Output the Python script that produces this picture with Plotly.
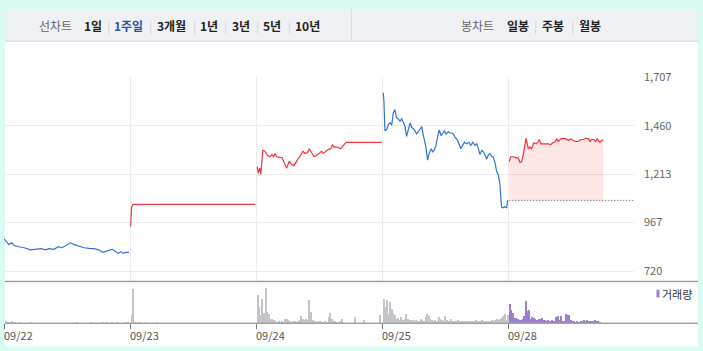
import plotly.graph_objects as go

W, H = 703, 351
DAY = 390  # minutes per trading session

dates = ["09/22", "09/23", "09/24", "09/25", "09/28"]
ytick_vals = [720, 967, 1213, 1460, 1707]
ytick_text = ["720", "967", "1,213", "1,460", "1,707"]

# ---- price (minutes from open, price) per day ----
d1_min = [0, 7, 15, 24, 31, 46, 62, 83, 98, 114, 129, 139, 155, 168, 180, 191, 206, 217, 232, 248,
          263, 279, 294, 306, 320, 335, 346, 354, 361, 368, 377, 387]
d1_px = [884, 872, 855, 864, 850, 844, 839, 828, 831, 834, 828, 834, 831, 844, 839, 850, 864, 855, 847, 839,
         836, 834, 828, 815, 823, 831, 818, 811, 818, 811, 815, 815]

d2_min = [2, 5, 9, 388]
d2_px = [948, 1045, 1060, 1060]

d3_min = [4, 7, 12, 15, 21, 28, 35, 43, 49, 54, 59, 64, 72, 81, 88, 95, 103, 110, 118, 124,
          131, 138, 145, 152, 159, 165, 172, 180, 188, 196, 203, 208, 217, 224, 231, 237, 241, 252, 262, 270,
          279, 389]
d3_px = [1252, 1219, 1244, 1214, 1335, 1330, 1310, 1302, 1314, 1302, 1319, 1302, 1299, 1297, 1269, 1244, 1280, 1264, 1257, 1277,
         1294, 1307, 1330, 1319, 1324, 1343, 1324, 1302, 1310, 1319, 1330, 1319, 1330, 1340, 1343, 1365, 1351, 1351, 1343, 1356,
         1375, 1375]

d4_min = [4, 6, 9, 15, 20, 25, 30, 35, 40, 45, 50, 56, 61, 66, 71, 76, 81, 87, 92, 97,
          102, 107, 112, 118, 123, 126, 130, 136, 141, 146, 152, 157, 162, 167, 172, 177, 183, 188, 193, 198,
          205, 210, 216, 221, 226, 233, 239, 244, 250, 255, 262, 269, 275, 281, 288, 293, 298, 303, 309, 314,
          319, 324, 329, 334, 340, 344, 350, 355, 360, 365, 370, 375, 381, 386, 389]
d4_px = [1628, 1583, 1434, 1443, 1467, 1475, 1463, 1525, 1542, 1500, 1495, 1484, 1495, 1475, 1459, 1406, 1443, 1475, 1451, 1446,
         1434, 1418, 1429, 1443, 1456, 1426, 1401, 1351, 1285, 1319, 1343, 1327, 1335, 1360, 1401, 1438, 1409, 1423, 1434, 1418,
         1429, 1423, 1423, 1418, 1401, 1390, 1368, 1343, 1360, 1376, 1368, 1376, 1360, 1376, 1360, 1368, 1346, 1314, 1335, 1327,
         1310, 1290, 1310, 1319, 1302, 1302, 1269, 1227, 1211, 1161, 1046, 1042, 1049, 1041, 1080]

d5_min = [4, 8, 16, 25, 32, 37, 42, 47, 56, 63, 68, 73, 80, 87, 92, 97, 102, 109, 118, 125,
          132, 138, 145, 151, 156, 163, 171, 180, 187, 194, 202, 210, 218, 225, 233, 241, 249, 254, 259, 266,
          272, 276, 285, 290, 295]
d5_px = [1277, 1302, 1302, 1297, 1294, 1274, 1277, 1310, 1396, 1343, 1351, 1343, 1373, 1368, 1376, 1390, 1368, 1368, 1368, 1368,
         1363, 1373, 1376, 1393, 1380, 1393, 1396, 1393, 1385, 1393, 1385, 1380, 1380, 1390, 1390, 1396, 1393, 1380, 1390, 1390,
         1380, 1393, 1376, 1385, 1388]
prev_close = 1080

# ---- volume per 5-minute bar (relative units) ----
vol_d1 = [2, 1, 1, 1, 2, 1, 1, 0, 0, 1, 0, 0, 0, 0, 0, 0, 1, 0, 0, 0, 0, 0, 0, 0, 0, 0, 0, 0, 0, 0,
          0, 0, 0, 0, 0, 0, 0, 0, 0, 0, 0, 0, 0, 0, 1, 0, 0, 0, 0, 0, 0, 0, 0, 1, 0, 0, 0, 0, 0, 0,
          1, 0, 0, 1, 0, 0, 1, 0, 0, 1, 0, 0, 0, 1, 0, 1, 1, 0]
vol_d2 = [8, 35, 1, 0, 1, 1, 0, 0, 0, 1, 0, 0, 0, 0, 0, 0, 1]
vol_d3 = [29, 16, 8, 25, 10, 36, 11, 9, 4, 4, 3, 2, 1, 2, 1, 2, 1, 4, 4, 3,
          2, 1, 2, 2, 1, 2, 3, 7, 4, 3, 4, 3, 24, 11, 3, 2, 2, 1, 2, 2,
          1, 1, 2, 1, 6, 10, 4, 2, 2, 1, 0, 2, 4, 0, 0, 0, 0, 0, 0, 0,
          6, 0, 0, 0, 0, 0, 3, 0, 0, 0, 0, 0, 0, 0, 0, 0, 8, 0]
vol_d4 = [25, 16, 24, 9, 22, 14, 10, 8, 4, 5, 3, 6, 3, 4, 9, 4, 3, 3, 3, 2,
          3, 2, 2, 4, 3, 2, 6, 9, 7, 4, 3, 2, 3, 2, 6, 4, 3, 2, 7, 3,
          2, 2, 4, 2, 2, 2, 3, 2, 2, 2, 2, 2, 2, 2, 2, 2, 2, 3, 2, 2,
          2, 3, 2, 2, 2, 2, 2, 3, 2, 3, 4, 3, 4, 5, 7, 9, 3, 8]
vol_d5 = [19, 13, 10, 5, 5, 4, 3, 3, 4, 7, 23, 12, 13, 4, 6, 5, 4, 3, 4, 4,
          5, 3, 3, 2, 3, 2, 3, 2, 2, 6, 7, 3, 7, 2, 2, 9, 8, 8, 3, 2,
          2, 1, 2, 1, 2, 2, 3, 2, 3, 2, 2, 2, 2, 3, 2, 2, 1]

RED = "#f3323c"
BLUE = "#2c74d8"
GRID = "#ececec"
CYAN = "#d8fbf3"
FONT = "Noto Sans CJK KR"

fig = go.Figure()

price_days = [(d1_min, d1_px, BLUE), (d2_min, d2_px, RED), (d3_min, d3_px, RED),
              (d4_min, d4_px, BLUE)]
for di, (mins, pxs, col) in enumerate(price_days):
    fig.add_trace(go.Scatter(x=[di * DAY + m for m in mins], y=pxs, mode="lines",
                             line=dict(color=col, width=1.2), xaxis="x", yaxis="y",
                             hoverinfo="skip", showlegend=False))

# today with fill to previous close
x5 = [4 * DAY + m for m in d5_min]
fig.add_trace(go.Scatter(x=[x5[0], x5[-1]], y=[prev_close, prev_close], mode="lines",
                         line=dict(width=0, color="rgba(0,0,0,0)"), xaxis="x", yaxis="y",
                         hoverinfo="skip", showlegend=False))
fig.add_trace(go.Scatter(x=x5, y=d5_px, mode="lines", line=dict(color=RED, width=1.2),
                         fill="tonexty", fillcolor="rgba(245,60,70,0.13)", xaxis="x", yaxis="y",
                         hoverinfo="skip", showlegend=False))
fig.add_trace(go.Scatter(x=[x5[0], 5 * DAY + 6], y=[prev_close, prev_close], mode="lines",
                         line=dict(color="#555555", width=1, dash="1px,2px"), xaxis="x", yaxis="y",
                         cliponaxis=False, hoverinfo="skip", showlegend=False))

# volume bars
vols = [vol_d1, vol_d2, vol_d3, vol_d4, vol_d5]
for di, v in enumerate(vols):
    col = "#9c7fd2" if di == 4 else "#c3c3c8"
    fig.add_trace(go.Bar(x=[di * DAY + 5 * (i + 1) for i in range(len(v))], y=v, width=3.1,
                         marker=dict(color=col, line=dict(width=0)), xaxis="x2", yaxis="y2",
                         hoverinfo="skip", showlegend=False))


def px_x(p):
    return p / W


def px_y(p):
    return 1 - p / H


xdom = [px_x(4), px_x(634)]
fig.update_layout(
    width=W, height=H, margin=dict(l=0, r=0, t=0, b=0),
    paper_bgcolor=CYAN, plot_bgcolor="rgba(0,0,0,0)",
    bargap=0, barmode="overlay",
    font=dict(family=FONT, size=11, color="#666"),
    xaxis=dict(domain=xdom, range=[0, 5 * DAY], tickvals=[DAY, 2 * DAY, 3 * DAY, 4 * DAY],
               showticklabels=False, showgrid=True, gridcolor=GRID, gridwidth=1,
               zeroline=False, showline=False, ticks="", fixedrange=True),
    yaxis=dict(domain=[px_y(279), px_y(70)], range=[670.4, 1707], side="right",
               tickvals=ytick_vals, ticktext=ytick_text, showgrid=True, gridcolor=GRID,
               zeroline=False, showline=False, ticks="", ticklabelstandoff=9,
               tickfont=dict(family=FONT, size=11, color="#666")),
    xaxis2=dict(domain=xdom, range=[0, 5 * DAY], anchor="y2",
                tickvals=[0, DAY, 2 * DAY, 3 * DAY, 4 * DAY], showticklabels=False,
                ticks="outside", ticklen=5, tickcolor="#777", tickwidth=1,
                showgrid=False, zeroline=False, showline=False),
    yaxis2=dict(domain=[px_y(322), px_y(282)], range=[0, 40], anchor="x2",
                visible=False),
)

shapes = []
# white panel
shapes.append(dict(type="rect", xref="paper", yref="paper", x0=px_x(5), x1=px_x(698),
                   y0=px_y(346), y1=1, fillcolor="white", line=dict(width=0), layer="below"))
# top bar
shapes.append(dict(type="rect", xref="paper", yref="paper", x0=px_x(5), x1=px_x(698),
                   y0=px_y(33), y1=1, fillcolor="#f0f1f5", line=dict(width=0), layer="below"))
shapes.append(dict(type="line", xref="paper", yref="paper", x0=px_x(5), x1=px_x(698),
                   y0=px_y(33), y1=px_y(33), line=dict(color="#d3d3da", width=1)))
shapes.append(dict(type="line", xref="paper", yref="paper", x0=px_x(351.5), x1=px_x(351.5),
                   y0=px_y(33), y1=1, line=dict(color="#dcdce2", width=1)))
# volume separator and baseline
shapes.append(dict(type="line", xref="paper", yref="paper", x0=px_x(5), x1=px_x(698),
                   y0=px_y(279.5), y1=px_y(279.5), line=dict(color="#7a7a7a", width=1)))
shapes.append(dict(type="line", xref="paper", yref="paper", x0=px_x(5), x1=px_x(698),
                   y0=px_y(281.5), y1=px_y(281.5), line=dict(color="#ececec", width=1)))
shapes.append(dict(type="line", xref="paper", yref="paper", x0=px_x(5), x1=px_x(698),
                   y0=px_y(322.5), y1=px_y(322.5), line=dict(color="#7a7a7a", width=1)))
# legend marker
shapes.append(dict(type="rect", xref="paper", yref="paper", x0=px_x(656.5), x1=px_x(659.5),
                   y0=px_y(296), y1=px_y(288), fillcolor="#9c7fd2", line=dict(width=0)))
fig.update_layout(shapes=shapes)

ann = []
for i, d in enumerate(dates):
    ann.append(dict(x=i * DAY, xref="x2", y=px_y(335), yref="paper", text=d, showarrow=False,
                    xanchor="left", yanchor="middle", xshift=-2,
                    font=dict(family=FONT, size=11, color="#555")))
ann.append(dict(x=px_x(660), xref="paper", y=px_y(292), yref="paper", text="거래량", showarrow=False,
                xanchor="left", yanchor="middle", font=dict(family=FONT, size=11, color="#333")))

menu = [("선차트", 37, "#666", False), ("1일", 82, "#222", True), ("|", 105, "#cfcfd6", False),
        ("1주일", 112, "#2f4fa3", True), ("|", 147, "#cfcfd6", False), ("3개월", 155, "#222", True),
        ("|", 191, "#cfcfd6", False), ("1년", 198, "#222", True), ("|", 222, "#cfcfd6", False),
        ("3년", 230, "#222", True), ("|", 254, "#cfcfd6", False), ("5년", 261, "#222", True),
        ("|", 286, "#cfcfd6", False), ("10년", 293, "#222", True),
        ("봉차트", 459, "#666", False), ("일봉", 505, "#222", True), ("|", 532, "#cfcfd6", False),
        ("주봉", 540, "#222", True), ("|", 569, "#cfcfd6", False), ("월봉", 577, "#222", True)]
for txt, xp, col, bold in menu:
    t = f"<b>{txt}</b>" if bold else txt
    ann.append(dict(x=px_x(xp), xref="paper", y=px_y(17), yref="paper", text=t, showarrow=False,
                    xanchor="left", yanchor="middle", font=dict(family=FONT, size=12, color=col)))
fig.update_layout(annotations=ann)

fig.write_html("out.html")
